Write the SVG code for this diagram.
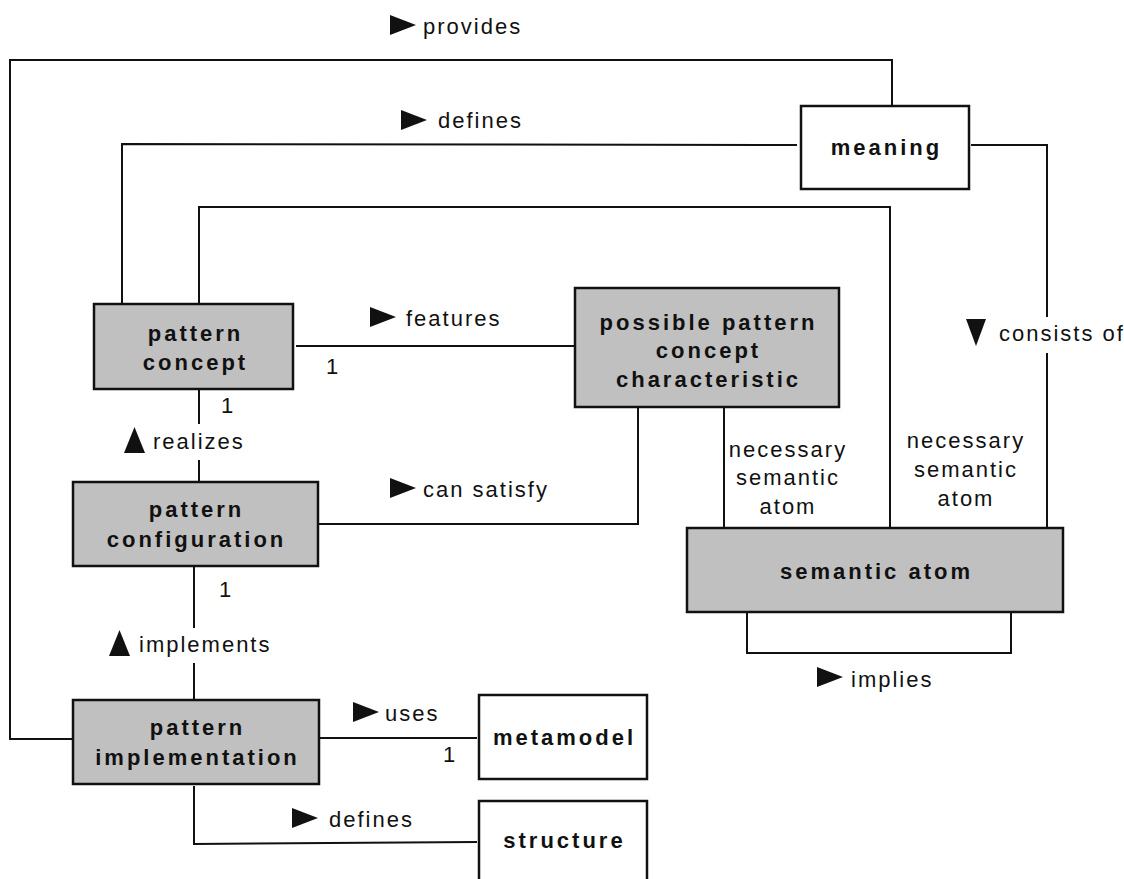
<svg xmlns="http://www.w3.org/2000/svg" xmlns:xlink="http://www.w3.org/1999/xlink" width="1124" height="879" viewBox="0 0 1124 879">
<style>
.box{stroke:#111;stroke-width:2.5}
.g{fill:#c0c0c0}
.w{fill:#fff}
.bl{font-family:"Liberation Sans",Arial,Helvetica,sans-serif;font-weight:bold;font-size:22px;letter-spacing:3px;text-anchor:middle;fill:#111}
.el{font-family:"Liberation Sans",Arial,Helvetica,sans-serif;font-size:22px;letter-spacing:2px;fill:#111}
.elc{text-anchor:middle}
.c path{fill:none;stroke:#111;stroke-width:2}
</style>
<defs>
<path id="tr" d="M0,0 L26,10 L0,20 Z" fill="#111"/>
<path id="tu" d="M10.5,0 L21,26 L0,26 Z" fill="#111"/>
<path id="td" d="M0,0 L20,0 L10,27 Z" fill="#111"/>
</defs>
<g id="connectors" class="c">
<path d="M73,739 H10 V60 H892 V106"/>
<path d="M122,304 V144 L797,145"/>
<path d="M971,145 H1047 V317 M1047,353 V528"/>
<path d="M199,304 V207 H890 V528"/>
<path d="M296,346 H575"/>
<path d="M318,524 H638 V407"/>
<path d="M724,407 V528"/>
<path d="M747,612 V653 H1011 V612"/>
<path d="M199,389 V424 M199,460 V482"/>
<path d="M194,566 V628 M194,663 V700"/>
<path d="M319,738 H477"/>
<path d="M194,786 V844 L477,842"/>
</g>
<g id="labels">
<use xlink:href="#tr" x="390" y="15"/><text class="el" x="423" y="34">provides</text>
<use xlink:href="#tr" x="401" y="110"/><text class="el" x="438" y="128">defines</text>
<use xlink:href="#td" x="966" y="319"/><text class="el" x="999" y="341">consists of</text>
<use xlink:href="#tr" x="370" y="307"/><text class="el" x="406" y="326">features</text>
<text class="el" x="326" y="374">1</text>
<use xlink:href="#tu" x="124" y="427"/><text class="el" x="153" y="449">realizes</text>
<text class="el" x="221" y="413">1</text>
<use xlink:href="#tr" x="390" y="478"/><text class="el" x="423" y="497">can satisfy</text>
<text class="el elc" x="788" y="457">necessary</text>
<text class="el elc" x="788" y="485">semantic</text>
<text class="el elc" x="788" y="514">atom</text>
<text class="el elc" x="966" y="448">necessary</text>
<text class="el elc" x="966" y="477">semantic</text>
<text class="el elc" x="966" y="506">atom</text>
<use xlink:href="#tr" x="817" y="667"/><text class="el" x="851" y="687">implies</text>
<text class="el" x="219" y="597">1</text>
<use xlink:href="#tu" x="109" y="630"/><text class="el" x="139" y="652">implements</text>
<use xlink:href="#tr" x="353" y="702"/><text class="el" x="385" y="721">uses</text>
<text class="el" x="443" y="762">1</text>
<use xlink:href="#tr" x="292" y="808"/><text class="el" x="329" y="827">defines</text>
</g>
<g id="meaning"><rect class="box w" x="801" y="106" width="168" height="83"/><text class="bl" x="886.5" y="155">meaning</text></g>
<g id="pattern-concept"><rect class="box g" x="94" y="304" width="199" height="85"/><text class="bl" x="195.5" y="341">pattern</text><text class="bl" x="195.5" y="370">concept</text></g>
<g id="possible-pattern-concept-characteristic"><rect class="box g" x="575" y="288" width="264" height="119"/><text class="bl" x="708.5" y="330">possible pattern</text><text class="bl" x="708.5" y="358">concept</text><text class="bl" x="708.5" y="387">characteristic</text></g>
<g id="pattern-configuration"><rect class="box g" x="73" y="482" width="245" height="84"/><text class="bl" x="196.5" y="517">pattern</text><text class="bl" x="196.5" y="547">configuration</text></g>
<g id="semantic-atom"><rect class="box g" x="687" y="528" width="376" height="84"/><text class="bl" x="876.5" y="579">semantic atom</text></g>
<g id="pattern-implementation"><rect class="box g" x="73" y="700" width="246" height="84"/><text class="bl" x="197.5" y="735">pattern</text><text class="bl" x="197.5" y="765">implementation</text></g>
<g id="metamodel"><rect class="box w" x="479" y="695" width="168" height="84"/><text class="bl" x="564.5" y="745">metamodel</text></g>
<g id="structure"><rect class="box w" x="479" y="801" width="168" height="100"/><text class="bl" x="564.5" y="848">structure</text></g>
</svg>
